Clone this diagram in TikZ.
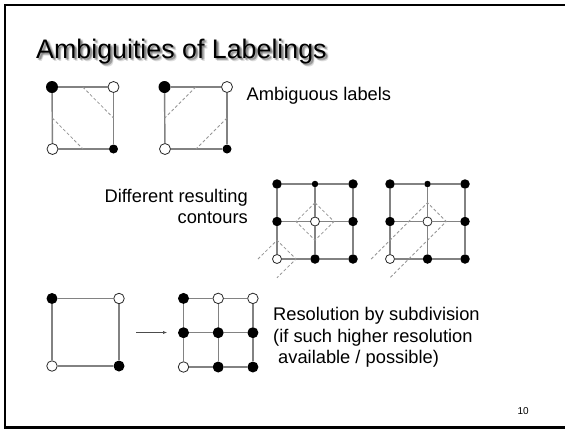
\documentclass[tikz,border=0pt]{standalone}
\usepackage{fontspec}
\setmainfont{Liberation Sans}
\usetikzlibrary{calc,arrows.meta}
\definecolor{edgegray}{RGB}{130,130,130}
\definecolor{contourgray}{RGB}{150,150,150}
\definecolor{ringgray}{RGB}{40,40,40}
\begin{document}
\begin{tikzpicture}[x=1pt,y=-1pt,
  gridline/.style={draw=edgegray,line width=1.4pt},
  contour/.style={draw=contourgray,line width=0.8pt,dash pattern=on 3pt off 2.2pt},
  bdot/.style={circle,fill=black,inner sep=0pt,minimum size=#1},
  bdot/.default=9.5pt,
  wdot/.style={circle,draw=ringgray,fill=white,line width=0.8pt,inner sep=0pt,minimum size=#1},
  wdot/.default=9pt,
  txt/.style={font=\fontsize{18.3}{21.5}\selectfont,inner sep=0pt},
  pointer/.style={draw=black!70,line width=0.6pt,-{Latex[length=4pt,width=3.2pt]}}
]
\useasboundingbox (0,0) rectangle (565,429);
\fill[white] (0,0) rectangle (565,429);

% slide frame
\draw[line width=2.2pt] (567,5) -- (5,5) -- (5,427.5) -- (567,427.5);

% title with soft shadow
\foreach \dx/\dy in {1.2/1.4,2.2/2.4,1.4/2.8,2.8/1.6,3/3}
  \node[anchor=base west,inner sep=0pt,text=black,opacity=0.13,
        font=\fontsize{26.8}{30}\selectfont] at (36+\dx,58+\dy) {Ambiguities of Labelings};
\node[anchor=base west,inner sep=0pt,font=\fontsize{26.8}{30}\selectfont] (title) at (36,58) {Ambiguities of Labelings};

% ---- first pair of squares ----
\node[bdot=12pt] (a1) at (52,87) {};
\node[wdot=11pt] (a2) at (113.5,87) {};
\node[wdot=11pt] (a3) at (52.5,149) {};
\node[bdot=9pt] (a4) at (113.5,149) {};
\draw[gridline] (a1) -- (a2); \draw[gridline] (a2) -- (a4);
\draw[gridline] (a4) -- (a3); \draw[gridline] (a3) -- (a1);
\draw[contour] ($(a1)!0.5!(a2)$) -- ($(a2)!0.5!(a4)$);
\draw[contour] ($(a1)!0.5!(a3)$) -- ($(a3)!0.5!(a4)$);

\node[bdot=12pt] (b1) at (164.5,87) {};
\node[wdot=11pt] (b2) at (227,87) {};
\node[wdot=11pt] (b3) at (165,149) {};
\node[bdot=9pt] (b4) at (227,149) {};
\draw[gridline] (b1) -- (b2); \draw[gridline] (b2) -- (b4);
\draw[gridline] (b4) -- (b3); \draw[gridline] (b3) -- (b1);
\draw[contour] ($(b1)!0.5!(b2)$) -- ($(b1)!0.5!(b3)$);
\draw[contour] ($(b2)!0.5!(b4)$) -- ($(b3)!0.5!(b4)$);

\node[txt,anchor=base west] (amb) at (246.5,100.5) {Ambiguous labels};

% ---- two 3x3 grids ----
\node[txt,anchor=base east] (diff1) at (248,202) {Different resulting};
\node[txt,anchor=base east] (diff2) at (248,223.5) {contours};

\begin{scope}[shift={(277,259)},x=38pt,y=37.5pt]
  \node[wdot] (g00) at (0,0) {}; \node[bdot] (g10) at (1,0) {}; \node[bdot] (g20) at (2,0) {};
  \node[bdot] (g01) at (0,1) {}; \node[wdot] (g11) at (1,1) {}; \node[bdot] (g21) at (2,1) {};
  \node[bdot] (g02) at (0,2) {}; \node[bdot=6.5pt] (g12) at (1,2) {}; \node[bdot] (g22) at (2,2) {};
  \foreach \i in {0,1,2} \foreach \j/\k in {0/1,1/2} {
    \draw[gridline] (g\i\j) -- (g\i\k);
    \draw[gridline] (g\j\i) -- (g\k\i);
  }
  \draw[contour] (1,1.5) -- (1.5,1) -- (1,0.5) -- (0.5,1) -- cycle;
  \draw[contour] (-0.5,0) -- (0,0.5) -- (0.5,0) -- (0,-0.5);
\end{scope}

\begin{scope}[shift={(390,259)},x=37.5pt,y=37.5pt]
  \node[wdot] (h00) at (0,0) {}; \node[bdot] (h10) at (1,0) {}; \node[bdot] (h20) at (2,0) {};
  \node[bdot] (h01) at (0,1) {}; \node[wdot] (h11) at (1,1) {}; \node[bdot] (h21) at (2,1) {};
  \node[bdot] (h02) at (0,2) {}; \node[bdot=6.5pt] (h12) at (1,2) {}; \node[bdot] (h22) at (2,2) {};
  \foreach \i in {0,1,2} \foreach \j/\k in {0/1,1/2} {
    \draw[gridline] (h\i\j) -- (h\i\k);
    \draw[gridline] (h\j\i) -- (h\k\i);
  }
  \draw[contour] (-0.5,0) -- (1,1.5) -- (1.5,1) -- (0,-0.5);
\end{scope}

% ---- subdivision ----
\node[bdot=11pt] (c1) at (52,298.5) {};
\node[wdot=10.5pt] (c2) at (119,298.5) {};
\node[wdot=10.5pt] (c3) at (52,366) {};
\node[bdot=11pt] (c4) at (119,366) {};
\draw[gridline] (c1) -- (c2); \draw[gridline] (c2) -- (c4);
\draw[gridline] (c4) -- (c3); \draw[gridline] (c3) -- (c1);

\coordinate (arrS) at (136,332.5);
\coordinate (arrE) at (167,332.5);
\draw[pointer] (arrS) -- (arrE);

\begin{scope}[shift={(183.5,367)},x=34.7pt,y=34.3pt]
  \node[wdot=10.5pt] (k00) at (0,0) {}; \node[bdot=11pt] (k10) at (1,0) {}; \node[bdot=11pt] (k20) at (2,0) {};
  \node[bdot=11pt] (k01) at (0,1) {}; \node[bdot=11pt] (k11) at (1,1) {}; \node[bdot=11pt] (k21) at (2,1) {};
  \node[bdot=11pt] (k02) at (0,2) {}; \node[wdot=10.5pt] (k12) at (1,2) {}; \node[wdot=10.5pt] (k22) at (2,2) {};
  \foreach \i in {0,1,2} \foreach \j/\k in {0/1,1/2} {
    \draw[gridline] (k\i\j) -- (k\i\k);
    \draw[gridline] (k\j\i) -- (k\k\i);
  }
\end{scope}

\node[txt,anchor=base west] (res1) at (273,320.7) {Resolution by subdivision};
\node[txt,anchor=base west] (res2) at (273,342.2) {(if such higher resolution};
\node[txt,anchor=base west] (res3) at (278,363.5) {available / possible)};

\node[anchor=base east,inner sep=0pt,font=\fontsize{10}{12}\selectfont] (pg) at (529,414) {10};
\end{tikzpicture}
\end{document}
